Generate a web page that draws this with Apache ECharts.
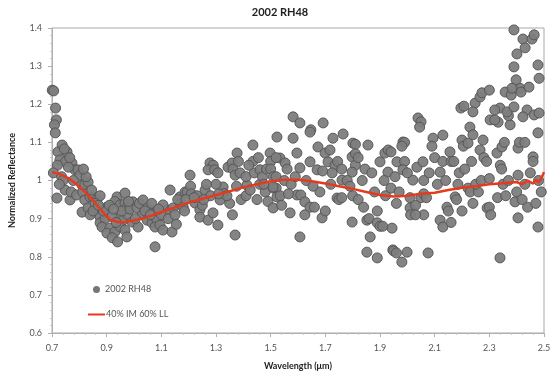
<!DOCTYPE html>
<html>
<head>
<meta charset="utf-8">
<script src="https://cdn.jsdelivr.net/npm/echarts@6/dist/echarts.min.js"></script>
<style>html,body{margin:0;padding:0;background:#fff}#c{width:560px;height:387px}</style>
</head>
<body>
<div id="c"></div>
<script>
// Observed points: [wavelength (µm), normalized reflectance]
var obsPoints = [
[0.701,1.237],[0.706,1.235],[0.713,1.19],[0.716,1.159],[0.709,1.146],[0.712,1.125],[0.737,1.093],[0.722,1.075],[0.755,1.075],[0.745,1.083],[0.729,1.054],[0.75,1.05],[0.72,1.04],[0.773,1.046],[0.784,1.028],[0.795,1.028],[0.802,1.014],[0.718,0.954],[0.748,0.975],[0.766,0.949],[0.77,0.97],[0.79,0.962],[0.705,1.02],[0.735,1.01],[0.76,1.035],[0.74,1.0],[0.765,1.06],[0.778,1.0],[0.727,0.99],
[0.81,0.988],[0.812,0.97],[0.82,0.99],[0.832,0.996],[0.82,0.949],[0.81,0.917],[0.839,0.957],[0.85,0.957],[0.864,0.949],[0.876,0.96],[0.832,0.928],[0.864,0.923],[0.84,0.91],[0.876,0.904],[0.876,0.889],[0.894,0.90],[0.9,0.93],[0.883,0.878],[0.825,1.01],[0.845,0.975],[0.858,0.94],[0.815,1.03],[0.85,0.92],[0.888,0.92],[0.87,0.935],
[0.912,0.875],[0.901,0.862],[0.93,0.865],[0.92,0.85],[0.94,0.839],[0.938,0.957],[0.93,0.945],[0.949,0.936],[0.967,0.967],[0.967,0.94],[0.974,0.928],[0.949,0.91],[0.96,0.896],[0.978,0.91],[0.949,0.878],[0.967,0.87],[0.993,0.891],[0.974,0.852],[0.996,0.944],[0.92,0.905],[0.935,0.89],[0.955,0.92],[0.985,0.925],[0.91,0.935],[0.98,0.945],[0.925,0.925],
[1.011,0.928],[1.02,0.94],[1.03,0.91],[1.033,0.949],[1.05,0.928],[1.048,0.896],[1.015,0.878],[1.066,0.889],[1.084,0.896],[1.077,0.878],[1.095,0.883],[1.106,0.87],[1.139,0.865],[1.077,0.826],[1.084,0.923],[1.12,0.923],[1.106,0.936],[1.132,0.975],[1.143,0.928],[1.168,0.957],[1.17,0.94],[1.187,0.97],[1.195,0.97],[1.04,0.92],[1.06,0.91],[1.005,0.9],[1.1,0.91],[1.125,0.9],[1.15,0.91],[1.16,0.95],[1.18,0.93],[1.065,0.94],[1.09,0.925],[1.155,0.885],
[1.205,1.014],[1.207,0.985],[1.21,0.965],[1.19,0.95],[1.223,0.941],[1.185,0.92],[1.241,0.923],[1.25,0.935],[1.241,0.904],[1.271,0.896],[1.289,0.915],[1.307,0.883],[1.278,1.046],[1.29,1.04],[1.271,1.028],[1.295,1.028],[1.307,1.02],[1.315,0.949],[1.326,0.983],[1.33,0.966],[1.344,1.035],[1.359,1.046],[1.362,1.03],[1.37,1.014],[1.377,1.072],[1.382,1.05],[1.388,1.02],[1.37,0.857],[1.36,0.91],[1.35,0.94],[1.392,0.95],[1.23,0.96],[1.26,0.975],[1.28,0.96],[1.3,0.99],[1.22,0.955],[1.255,0.95],[1.34,0.96],[1.31,0.965],[1.265,0.99],[1.375,0.985],
[1.413,0.988],[1.41,1.01],[1.435,1.093],[1.435,1.05],[1.44,1.02],[1.461,1.028],[1.46,0.99],[1.47,1.01],[1.48,0.97],[1.485,1.03],[1.498,1.072],[1.5,1.05],[1.5,1.03],[1.41,0.96],[1.425,0.975],[1.45,0.95],[1.475,0.99],[1.49,0.945],[1.42,1.04],[1.455,1.06],
[1.51,1.01],[1.51,0.98],[1.52,0.98],[1.52,1.01],[1.582,1.167],[1.607,1.151],[1.692,1.151],[1.647,1.133],[1.523,1.114],[1.582,1.111],[1.644,1.127],[1.673,1.088],[1.596,1.072],[1.534,1.059],[1.52,1.06],[1.553,1.046],[1.56,1.03],[1.607,1.033],[1.644,1.049],[1.699,1.072],[1.67,1.028],[1.69,1.025],[1.509,0.983],[1.523,0.957],[1.509,0.928],[1.535,0.96],[1.571,0.915],[1.596,0.962],[1.61,0.962],[1.625,0.944],[1.644,0.93],[1.66,0.93],[1.625,0.91],[1.607,0.852],[1.68,0.97],[1.688,0.902],[1.55,1.0],[1.575,0.99],[1.59,1.01],[1.63,1.0],[1.655,0.985],[1.54,0.935],[1.565,0.965],
[1.717,1.08],[1.71,1.049],[1.728,1.111],[1.765,1.122],[1.735,1.04],[1.745,1.05],[1.801,1.098],[1.81,1.095],[1.798,1.062],[1.81,1.07],[1.81,1.04],[1.798,1.022],[1.761,1.001],[1.78,1.0],[1.76,1.03],[1.82,1.06],[1.856,1.093],[1.70,0.92],[1.743,0.954],[1.75,0.95],[1.76,0.955],[1.798,0.891],[1.80,0.96],[1.82,0.95],[1.852,0.896],[1.86,0.90],[1.89,0.889],[1.852,0.812],[1.864,0.852],[1.89,0.797],[1.72,0.99],[1.79,0.985],[1.835,1.0],[1.845,1.03],[1.87,1.02],[1.88,0.97],[1.84,0.93],[1.725,1.02],
[1.9,1.049],[1.918,1.072],[1.93,1.08],[1.94,1.075],[1.929,1.022],[1.962,1.049],[1.984,1.101],[1.99,1.10],[1.98,1.09],[1.99,1.05],[1.984,1.028],[2.035,1.035],[2.039,1.164],[2.05,1.154],[2.045,1.14],[2.02,1.001],[2.057,1.049],[2.06,1.0],[2.094,1.111],[2.09,1.09],[2.1,1.06],[1.90,0.88],[1.91,0.88],[1.944,0.875],[1.947,0.818],[1.95,0.815],[1.96,0.81],[1.98,0.786],[1.999,0.812],[2.076,0.81],[1.89,0.92],[1.92,0.96],[1.94,0.98],[2.01,0.928],[2.012,0.91],[2.03,0.935],[2.05,0.955],[2.06,0.965],[2.07,0.955],[2.06,0.91],[2.03,0.91],[2.01,0.955],[1.915,1.0],[1.955,1.01],[1.97,0.97],[2.0,1.02],[2.08,1.02],[1.96,0.94],
[2.13,1.119],[2.12,1.022],[2.13,1.05],[2.156,1.075],[2.16,1.05],[2.17,1.05],[2.2,1.106],[2.205,1.09],[2.222,1.098],[2.229,1.14],[2.24,1.12],[2.277,1.106],[2.266,1.08],[2.28,1.06],[2.29,1.05],[2.196,1.19],[2.207,1.195],[2.248,1.203],[2.24,1.18],[2.266,1.219],[2.273,1.23],[2.30,1.237],[2.12,0.896],[2.145,0.93],[2.15,0.92],[2.13,0.878],[2.16,0.89],[2.175,0.957],[2.18,0.95],[2.222,0.98],[2.23,0.97],[2.292,0.928],[2.26,0.97],[2.25,0.99],[2.27,1.0],[2.11,0.99],[2.14,1.0],[2.19,1.02],[2.21,1.03],[2.235,1.05],[2.185,0.99],[2.2,0.92],[2.24,0.94],
[2.30,1.005],[2.30,0.93],[2.305,0.91],[2.33,0.955],[2.35,0.99],[2.339,0.797],[2.328,1.072],[2.346,1.088],[2.355,1.1],[2.34,1.04],[2.345,1.03],[2.303,1.159],[2.332,1.153],[2.376,1.146],[2.37,1.17],[2.358,1.232],[2.38,1.224],[2.339,1.19],[2.365,1.18],[2.39,1.193],[2.412,1.242],[2.416,1.232],[2.445,1.245],[2.438,1.185],[2.464,1.172],[2.482,1.268],[2.478,1.303],[2.39,1.298],[2.401,1.332],[2.39,1.395],[2.423,1.371],[2.431,1.348],[2.456,1.371],[2.464,1.382],[2.423,1.167],[2.32,1.159],[2.32,1.185],[2.398,1.264],[2.383,1.242],[2.482,1.177],[2.478,1.125],[2.46,1.062],[2.46,1.05],[2.405,1.085],[2.41,1.10],[2.43,1.1],[2.405,1.014],[2.394,0.944],[2.405,0.902],[2.44,0.93],[2.40,0.97],[2.43,0.99],[2.478,0.878],[2.48,1.0],[2.36,0.96],[2.37,1.0],[2.45,1.02],[2.49,0.97],[2.42,0.95],[2.47,0.94]
];
// Model spectrum
var modelWavelength = [0.70,0.73,0.76,0.79,0.82,0.85,0.88,0.91,0.94,0.97,1.00,1.04,1.08,1.12,1.16,1.20,1.25,1.30,1.35,1.40,1.45,1.50,1.55,1.60,1.65,1.70,1.75,1.80,1.85,1.90,1.95,2.00,2.05,2.10,2.15,2.20,2.25,2.30,2.35,2.40,2.42,2.44,2.46,2.47,2.48,2.49,2.50];
var modelReflectance = [1.022,1.016,1.006,0.99,0.97,0.948,0.922,0.898,0.891,0.892,0.895,0.902,0.912,0.922,0.932,0.942,0.952,0.962,0.972,0.982,0.99,0.998,1.002,1.002,0.998,0.992,0.985,0.978,0.97,0.962,0.958,0.96,0.965,0.968,0.975,0.981,0.985,0.99,0.993,0.996,0.99,1.0,0.992,1.002,0.995,1.005,1.022];
var titleText = '2002 RH48';
var seriesNames = ['2002 RH48', '40% IM 60% LL'];
var xName = 'Wavelength (μm)';
var yName = 'Normalized Reflectance';

var modelData = modelWavelength.map(function(w, i){ return [w, modelReflectance[i]]; });
var font = 'Lato, "Open Sans", sans-serif';
var legendText = {fontFamily:font, fontSize:9, color:'#555'};
var chart = echarts.init(document.getElementById('c'), null, {renderer:'canvas'});
chart.setOption({
  animation:false,
  backgroundColor:'#fff',
  title:{text:titleText, left:'center', top:2, textStyle:{fontFamily:font, fontSize:11, fontWeight:'bold', color:'#222'}},
  grid:{left:52, right:16, top:28, bottom:54, show:true, borderColor:'#a8a8a8', borderWidth:1},
  legend:[
    {left:88, top:280, itemWidth:7, itemHeight:7, itemGap:0, textStyle:Object.assign({padding:[0,0,0,0]}, legendText),
     itemStyle:{borderWidth:0},
     data:[{name:seriesNames[0], icon:'circle', itemStyle:{borderWidth:0, color:'#6f6f6f'}}]},
    {left:83, top:305, itemWidth:17, itemHeight:2, itemGap:0, textStyle:Object.assign({padding:[0,0,0,-4]}, legendText),
     data:[{name:seriesNames[1], icon:'rect'}]}
  ],
  xAxis:{
    type:'value', min:0.7, max:2.5, interval:0.2,
    name:xName, nameLocation:'middle', nameGap:29,
    nameTextStyle:{fontFamily:font, fontSize:9, fontWeight:'bold', color:'#222'},
    axisLine:{lineStyle:{color:'#b0b0b0'}},
    axisTick:{show:true, length:4, lineStyle:{color:'#b0b0b0'}},
    minorTick:{show:true, splitNumber:5, length:2, lineStyle:{color:'#c8c8c8'}},
    splitLine:{show:false},
    axisLabel:{fontFamily:font, fontSize:9, color:'#555', margin:11, formatter:function(v){return (+v.toFixed(1)).toFixed(1);}}
  },
  yAxis:{
    type:'value', min:0.6, max:1.4, interval:0.1,
    name:yName, nameLocation:'middle', nameGap:35, nameRotate:90,
    nameTextStyle:{fontFamily:font, fontSize:9, fontWeight:'bold', color:'#222'},
    axisLine:{show:true, lineStyle:{color:'#b0b0b0'}},
    axisTick:{show:true, length:4, lineStyle:{color:'#b0b0b0'}},
    minorTick:{show:true, splitNumber:5, length:2, lineStyle:{color:'#c8c8c8'}},
    splitLine:{show:false},
    axisLabel:{fontFamily:font, fontSize:9, color:'#555', margin:10, formatter:function(v){var r=+v.toFixed(1); return r===1?'1':r.toFixed(1);}}
  },
  series:[
    {name:seriesNames[0], type:'scatter', data:obsPoints, symbolSize:10,
     itemStyle:{color:'#7d7d7d', borderColor:'#545454', borderWidth:1, opacity:0.95}, z:2},
    {name:seriesNames[1], type:'line', data:modelData, showSymbol:false, symbol:'none', smooth:false,
     lineStyle:{color:'#e63a1e', width:2.5}, itemStyle:{color:'#e63a1e'}, z:3}
  ]
});
</script>
</body>
</html>
